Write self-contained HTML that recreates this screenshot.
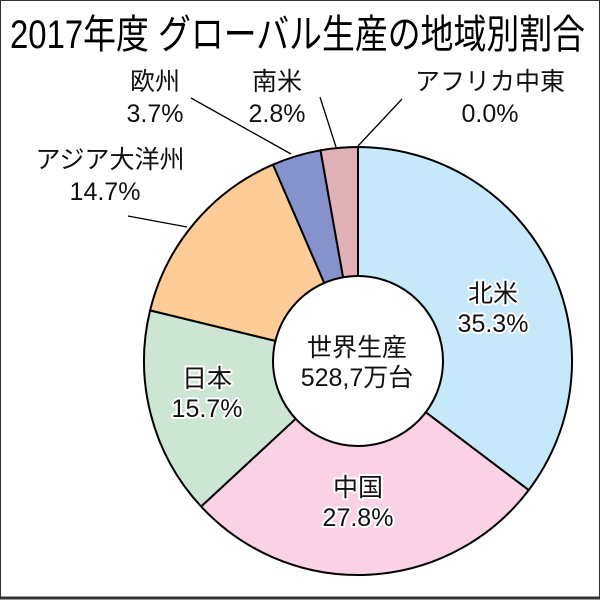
<!DOCTYPE html>
<html><head><meta charset="utf-8"><style>
html,body{margin:0;padding:0;background:#fff;}
svg{display:block;}
text{font-family:"Liberation Sans","Noto Sans CJK JP",sans-serif;}
</style></head><body>
<svg width="600" height="600" viewBox="0 0 600 600" xmlns="http://www.w3.org/2000/svg">
<rect x="0.5" y="0.5" width="599" height="598" fill="#fff" stroke="#333" stroke-width="1"/>
<line x1="0" y1="598" x2="600" y2="598" stroke="#333" stroke-width="3"/>
<text x="10" y="48" font-size="40" textLength="575" lengthAdjust="spacingAndGlyphs" fill="#000">2017年度 グローバル生産の地域別割合</text>
<g stroke="#000" stroke-width="2" stroke-linejoin="round">
<path d="M358,361 L358,147 A214,214 0 0 1 528.7,490.1 Z" fill="#c6e8fa"/>
<path d="M358,361 L528.7,490.1 A214,214 0 0 1 201.1,506.5 Z" fill="#fbd1e6"/>
<path d="M358,361 L201.1,506.5 A214,214 0 0 1 150.1,310.4 Z" fill="#cde6d4"/>
<path d="M358,361 L150.1,310.4 A214,214 0 0 1 273.0,164.6 Z" fill="#fdcc97"/>
<path d="M358,361 L273.0,164.6 A214,214 0 0 1 320.5,150.3 Z" fill="#8592cc"/>
<path d="M358,361 L320.5,150.3 A214,214 0 0 1 358,147 Z" fill="#e0b0b6"/>
<circle cx="358" cy="361" r="85" fill="#fff"/>
</g>
<g stroke="#000" stroke-width="1.3" fill="none">
<line x1="191" y1="98" x2="291" y2="154"/>
<line x1="320" y1="97" x2="336" y2="147"/>
<line x1="402" y1="99" x2="358" y2="146"/>
<line x1="128" y1="216" x2="187" y2="227"/>
</g>
<g font-size="25" text-anchor="middle" fill="#111">
<text x="155" y="90">欧州</text>
<text x="155" y="122">3.7%</text>
<text x="277" y="90">南米</text>
<text x="277" y="122">2.8%</text>
<text x="490" y="90">アフリカ中東</text>
<text x="490" y="122">0.0%</text>
<text x="110" y="168">アジア大洋州</text>
<text x="105" y="200">14.7%</text>
</g>
<g font-size="25" text-anchor="middle" fill="#111" stroke="#fff" stroke-width="4" paint-order="stroke" stroke-linejoin="round">
<text x="493" y="302">北米</text>
<text x="493" y="332">35.3%</text>
<text x="358" y="496">中国</text>
<text x="358" y="526">27.8%</text>
<text x="207" y="387">日本</text>
<text x="207" y="417">15.7%</text>
<text x="357" y="356">世界生産</text>
<text x="357" y="386">528,7万台</text>
</g>
</svg>
</body></html>
